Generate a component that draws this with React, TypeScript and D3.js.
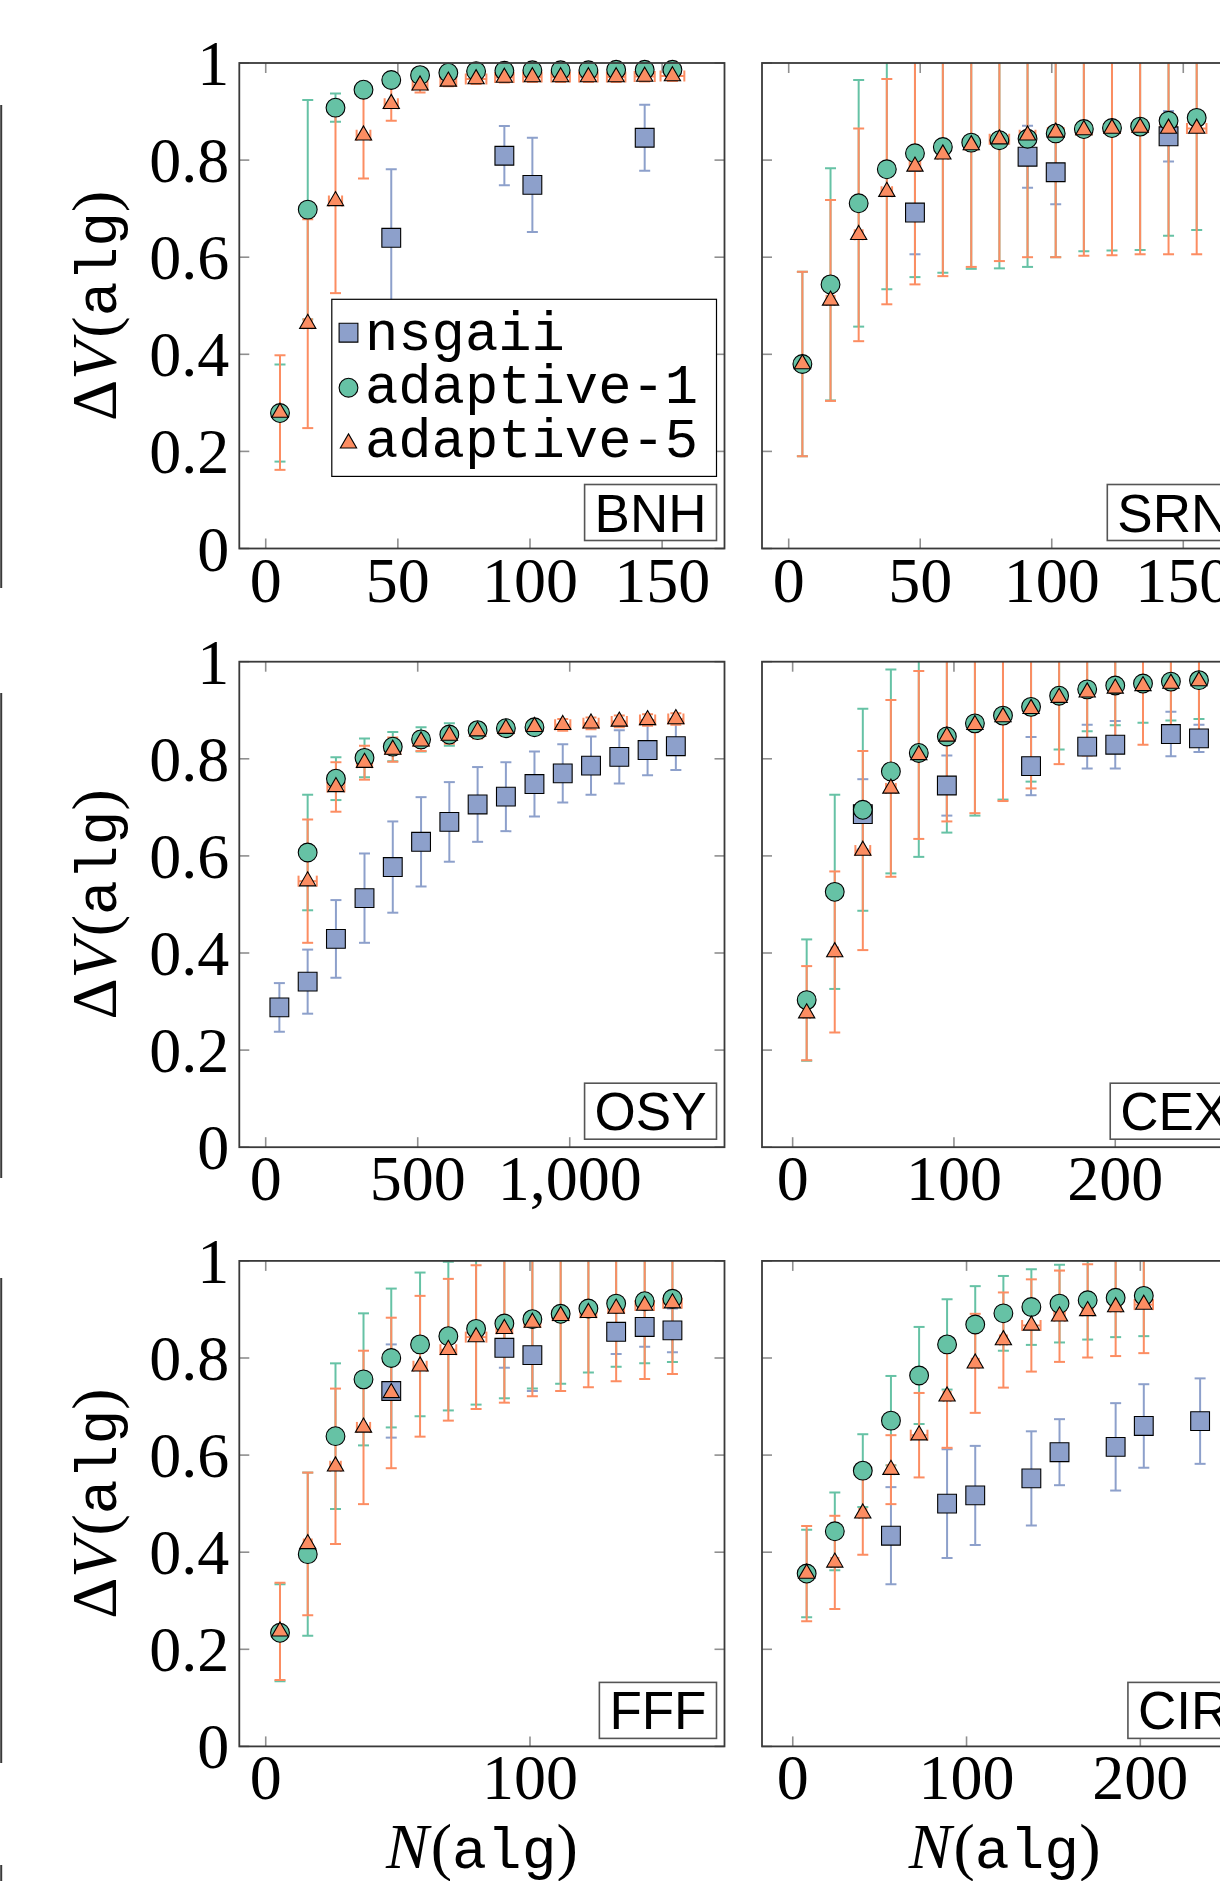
import React from 'react';
import * as d3 from 'd3';

// ---------- colours ----------
const C_NSGA = '#8DA0CB';
const C_A1 = '#66C2A5';
const C_A5 = '#FC8D62';

const LEGEND_LABELS = ['nsgaii', 'adaptive-1', 'adaptive-5'];
const Y_TICKS = [0, 0.2, 0.4, 0.6, 0.8, 1];
const Y_TICK_LABELS = ['0', '0.2', '0.4', '0.6', '0.8', '1'];

// ---------- BNH ----------
const BNH_N = [5.4, 15.9, 26.4, 37.0, 47.5, 58.4, 69.1, 79.6, 90.3, 100.9, 111.6, 122.1, 132.6, 143.4, 153.9];
const BNH_A1 = [0.279, 0.698, 0.908, 0.945, 0.965, 0.975, 0.980, 0.983, 0.984, 0.985, 0.985, 0.985, 0.986, 0.986, 0.986];
const BNH_A1_ERR = [0.10, 0.226, 0.029, 0.012, 0.008, 0.006, 0.005, 0.004, 0.004, 0.004, 0.004, 0.004, 0.004, 0.004, 0.004];
const BNH_A5 = [0.280, 0.463, 0.716, 0.851, 0.916, 0.954, 0.962, 0.967, 0.970, 0.971, 0.971, 0.971, 0.971, 0.972, 0.973];
const BNH_A5_ERR = [0.118, 0.215, 0.19, 0.089, 0.035, 0.015, 0.01, 0.01, 0.01, 0.01, 0.01, 0.01, 0.01, 0.01, 0.01];
const BNH_A5_XERR = [1.0, 1.5, 2.5, 2.6, 2.5, 2.8, 3.0, 3.9, 3.5, 3.5, 3.5, 3.5, 3.5, 3.8, 4.5];
const BNH_NSGA_N = [47.5, 90.3, 100.9, 143.4];
const BNH_NSGA = [0.640, 0.809, 0.749, 0.846];
const BNH_NSGA_ERR = [0.141, 0.061, 0.097, 0.068];

// ---------- SRN ----------
const SRN_N = [5.2, 15.9, 26.6, 37.3, 48.0, 58.6, 69.4, 80.1, 90.8, 101.5, 112.2, 122.9, 133.6, 144.4, 155.1];
const SRN_A1 = [0.380, 0.544, 0.711, 0.781, 0.814, 0.827, 0.836, 0.841, 0.844, 0.855, 0.864, 0.866, 0.869, 0.881, 0.887];
const SRN_A1_ERR = [0.19, 0.239, 0.254, 0.247, 0.255, 0.259, 0.26, 0.264, 0.264, 0.255, 0.252, 0.252, 0.254, 0.237, 0.231];
const SRN_A5 = [0.380, 0.511, 0.646, 0.735, 0.787, 0.812, 0.831, 0.843, 0.851, 0.857, 0.862, 0.865, 0.867, 0.865, 0.865];
const SRN_A5_ERR = [0.19, 0.207, 0.219, 0.232, 0.243, 0.251, 0.251, 0.251, 0.251, 0.257, 0.259, 0.261, 0.261, 0.259, 0.259];
const SRN_A5_XERR = [1, 1.5, 1.5, 2, 2, 2, 2.5, 3.7, 3, 3, 3, 3, 3, 3, 3.7];
const SRN_NSGA_N = [48.0, 90.8, 101.5, 144.4];
const SRN_NSGA = [0.692, 0.807, 0.775, 0.849];
const SRN_NSGA_ERR = [0.086, 0.064, 0.066, 0.052];

// ---------- OSY ----------
const OSY_N = [45, 138, 231, 325, 418, 511, 604, 697, 790, 884, 977, 1070, 1163, 1256, 1349];
const OSY_NSGA = [0.288, 0.341, 0.429, 0.513, 0.577, 0.629, 0.670, 0.706, 0.722, 0.748, 0.770, 0.786, 0.804, 0.818, 0.826];
const OSY_NSGA_ERR = [0.05, 0.066, 0.080, 0.092, 0.094, 0.092, 0.082, 0.077, 0.071, 0.067, 0.060, 0.060, 0.055, 0.052, 0.049];
const OSY_A1_N = [138, 231, 325, 418, 511, 604, 697, 790, 884];
const OSY_A1 = [0.607, 0.759, 0.802, 0.825, 0.840, 0.850, 0.859, 0.863, 0.865];
const OSY_A1_ERR = [0.119, 0.044, 0.040, 0.030, 0.025, 0.023, 0.015, 0.012, 0.01];
const OSY_A5_N = [138, 231, 325, 418, 511, 604, 697, 790, 884, 977, 1070, 1163, 1256, 1349];
const OSY_A5 = [0.548, 0.742, 0.792, 0.819, 0.836, 0.848, 0.857, 0.862, 0.866, 0.870, 0.873, 0.877, 0.880, 0.882];
const OSY_A5_ERR = [0.127, 0.051, 0.035, 0.025, 0.02, 0.017, 0.015, 0.014, 0.013, 0.012, 0.012, 0.012, 0.012, 0.012];
const OSY_A5_XERR = [30, 28, 25, 25, 25, 25, 25, 25, 25, 25, 25, 25, 25, 25];

// ---------- CEX ----------
const CEX_N = [8.7, 26.1, 43.5, 60.9, 78.2, 95.6, 113.0, 130.4, 147.8, 165.2, 182.6, 200.0, 217.2, 234.5, 251.9];
const CEX_A1 = [0.303, 0.526, 0.695, 0.774, 0.812, 0.846, 0.873, 0.889, 0.907, 0.930, 0.943, 0.951, 0.955, 0.959, 0.962];
const CEX_A1_ERR = [0.125, 0.20, 0.208, 0.21, 0.214, 0.198, 0.19, 0.173, 0.154, 0.111, 0.086, 0.082, 0.081, 0.08, 0.08];
const CEX_A5 = [0.276, 0.402, 0.611, 0.739, 0.808, 0.846, 0.870, 0.886, 0.903, 0.926, 0.937, 0.945, 0.950, 0.955, 0.960];
const CEX_A5_ERR = [0.097, 0.166, 0.205, 0.182, 0.173, 0.175, 0.182, 0.173, 0.164, 0.137, 0.13, 0.13, 0.121, 0.12, 0.12];
const CEX_A5_XERR = [2, 2, 4.6, 3, 3, 3, 3, 3, 3, 3, 3, 3, 3, 3, 3];
const CEX_NSGA_N = [43.5, 95.6, 147.8, 182.6, 200.0, 234.5, 251.9];
const CEX_NSGA = [0.686, 0.745, 0.785, 0.825, 0.829, 0.851, 0.842];
const CEX_NSGA_ERR = [0.072, 0.062, 0.060, 0.045, 0.049, 0.046, 0.028];

// ---------- FFF ----------
const FFF_N = [5.4, 15.9, 26.4, 37.0, 47.5, 58.4, 69.1, 79.6, 90.3, 100.9, 111.6, 122.1, 132.6, 143.4, 153.9];
const FFF_A1 = [0.234, 0.396, 0.639, 0.756, 0.800, 0.828, 0.845, 0.860, 0.871, 0.880, 0.891, 0.902, 0.912, 0.917, 0.922];
const FFF_A1_ERR = [0.10, 0.168, 0.15, 0.136, 0.143, 0.148, 0.153, 0.156, 0.154, 0.143, 0.144, 0.132, 0.13, 0.128, 0.13];
const FFF_A5 = [0.237, 0.417, 0.577, 0.657, 0.728, 0.783, 0.817, 0.843, 0.860, 0.873, 0.887, 0.893, 0.902, 0.908, 0.913];
const FFF_A5_ERR = [0.10, 0.147, 0.16, 0.158, 0.155, 0.145, 0.146, 0.148, 0.152, 0.152, 0.155, 0.153, 0.15, 0.151, 0.146];
const FFF_A5_XERR = [1, 1.5, 2, 2.5, 2.5, 2.5, 3, 3.9, 3, 3, 3, 3, 3, 3.5, 3.5];
const FFF_NSGA_N = [47.5, 90.3, 100.9, 132.6, 143.4, 153.9];
const FFF_NSGA = [0.732, 0.821, 0.806, 0.854, 0.864, 0.857];
const FFF_NSGA_ERR = [0.096, 0.041, 0.074, 0.046, 0.041, 0.045];

// ---------- CIR ----------
const CIR_N = [8.0, 24.2, 40.3, 56.5, 72.7, 88.8, 105.0, 121.2, 137.3, 153.5, 169.7, 185.8, 202.0];
const CIR_A1 = [0.356, 0.443, 0.568, 0.671, 0.764, 0.828, 0.869, 0.892, 0.905, 0.912, 0.919, 0.924, 0.928];
const CIR_A1_ERR = [0.09, 0.08, 0.075, 0.092, 0.10, 0.093, 0.079, 0.077, 0.078, 0.08, 0.081, 0.081, 0.083];
const CIR_A5 = [0.356, 0.379, 0.480, 0.570, 0.641, 0.721, 0.789, 0.837, 0.867, 0.886, 0.897, 0.905, 0.910];
const CIR_A5_ERR = [0.098, 0.096, 0.085, 0.071, 0.087, 0.106, 0.102, 0.098, 0.095, 0.094, 0.096, 0.101, 0.10];
const CIR_A5_XERR = [2, 2, 2, 2, 4.8, 2, 2, 2, 5.3, 3, 3, 3, 5.3];
const CIR_NSGA_N = [56.5, 88.8, 105.0, 137.3, 153.5, 185.8, 202.0, 234.4];
const CIR_NSGA = [0.434, 0.500, 0.517, 0.552, 0.606, 0.617, 0.660, 0.670];
const CIR_NSGA_ERR = [0.10, 0.112, 0.102, 0.097, 0.068, 0.09, 0.086, 0.088];

// ---------- panels ----------
type Series = { color: string; shape: 'square' | 'circle' | 'triangle'; x: number[]; y: number[]; e: number[]; xe?: number[] };
type PanelDef = { name: string; col: number; row: number; xDomain: [number, number]; xTicks: number[]; xTickLabels: string[]; series: Series[] };

const mk = (nx: number[], ny: number[], ne: number[], ax1: number[], a1: number[], a1e: number[], ax5: number[], a5: number[], a5e: number[], a5xe: number[]): Series[] => [
  { color: C_NSGA, shape: 'square', x: nx, y: ny, e: ne },
  { color: C_A1, shape: 'circle', x: ax1, y: a1, e: a1e },
  { color: C_A5, shape: 'triangle', x: ax5, y: a5, e: a5e, xe: a5xe },
];

const PANELS: PanelDef[] = [
  { name: 'BNH', col: 0, row: 0, xDomain: [-10, 173.6], xTicks: [0, 50, 100, 150], xTickLabels: ['0', '50', '100', '150'],
    series: mk(BNH_NSGA_N, BNH_NSGA, BNH_NSGA_ERR, BNH_N, BNH_A1, BNH_A1_ERR, BNH_N, BNH_A5, BNH_A5_ERR, BNH_A5_XERR) },
  { name: 'SRN', col: 1, row: 0, xDomain: [-10.15, 174.3], xTicks: [0, 50, 100, 150], xTickLabels: ['0', '50', '100', '150'],
    series: mk(SRN_NSGA_N, SRN_NSGA, SRN_NSGA_ERR, SRN_N, SRN_A1, SRN_A1_ERR, SRN_N, SRN_A5, SRN_A5_ERR, SRN_A5_XERR) },
  { name: 'OSY', col: 0, row: 1, xDomain: [-86.8, 1509], xTicks: [0, 500, 1000], xTickLabels: ['0', '500', '1,000'],
    series: mk(OSY_N, OSY_NSGA, OSY_NSGA_ERR, OSY_A1_N, OSY_A1, OSY_A1_ERR, OSY_A5_N, OSY_A5, OSY_A5_ERR, OSY_A5_XERR) },
  { name: 'CEX', col: 1, row: 1, xDomain: [-19, 281.8], xTicks: [0, 100, 200], xTickLabels: ['0', '100', '200'],
    series: mk(CEX_NSGA_N, CEX_NSGA, CEX_NSGA_ERR, CEX_N, CEX_A1, CEX_A1_ERR, CEX_N, CEX_A5, CEX_A5_ERR, CEX_A5_XERR) },
  { name: 'FFF', col: 0, row: 2, xDomain: [-10, 173.6], xTicks: [0, 100], xTickLabels: ['0', '100'],
    series: mk(FFF_NSGA_N, FFF_NSGA, FFF_NSGA_ERR, FFF_N, FFF_A1, FFF_A1_ERR, FFF_N, FFF_A5, FFF_A5_ERR, FFF_A5_XERR) },
  { name: 'CIR', col: 1, row: 2, xDomain: [-17.7, 261.5], xTicks: [0, 100, 200], xTickLabels: ['0', '100', '200'],
    series: mk(CIR_NSGA_N, CIR_NSGA, CIR_NSGA_ERR, CIR_N, CIR_A1, CIR_A1_ERR, CIR_N, CIR_A5, CIR_A5_ERR, CIR_A5_XERR) },
];

// ---------- layout ----------
const W = 1220, H = 1881;
const COL_LEFTS = [239.3, 762];
const ROW_TOPS = [63, 661.7, 1260.9];
const PW = 485.2, PH = 485.5;
const SERIF = '"Liberation Serif", "Times New Roman", serif';
const MONO = '"Liberation Mono", "Courier New", monospace';
const SANS = '"Liberation Sans", Arial, sans-serif';
const FS = 64;
const MR = 9.4; // marker radius

const symPath = (shape: string) => {
  if (shape === 'square') return d3.symbol(d3.symbolSquare, (2 * MR) * (2 * MR))();
  if (shape === 'circle') return d3.symbol(d3.symbolCircle, Math.PI * MR * MR)();
  const yy = MR / 2;
  return d3.symbol(d3.symbolTriangle, yy * yy * Math.sqrt(3) * 3)();
};

let _ctx: CanvasRenderingContext2D | null = null;
const measure = (t: string, font: string) => {
  if (!_ctx) _ctx = document.createElement('canvas').getContext('2d');
  if (!_ctx) return t.length * 30;
  _ctx.font = font;
  return _ctx.measureText(t).width;
};

function Panel({ p, idx }: { p: PanelDef; idx: number }) {
  const x0 = COL_LEFTS[p.col];
  const y0 = ROW_TOPS[p.row];
  const x = d3.scaleLinear().domain(p.xDomain).range([x0, x0 + PW]);
  const y = d3.scaleLinear().domain([0, 1]).range([y0 + PH, y0]);
  const clipId = `clip-${idx}`;
  const cap = 5.5;
  const tickLen = 10;

  const nameFont = `53px ${SANS}`;
  const tw = measure(p.name, nameFont);
  const bw = tw + 20, bh = 56;
  const bx = x0 + PW - 8 - bw, by = y0 + PH - 8 - bh;

  return (
    <g>
      <defs>
        <clipPath id={clipId}>
          <rect x={x0} y={y0} width={PW} height={PH} />
        </clipPath>
      </defs>
      {/* ticks */}
      <g stroke="#8f8f8f" strokeWidth={1.6}>
        {p.xTicks.map((t) => (
          <g key={'xt' + t}>
            <line x1={x(t)} x2={x(t)} y1={y0 + PH} y2={y0 + PH - tickLen} />
            <line x1={x(t)} x2={x(t)} y1={y0} y2={y0 + tickLen} />
          </g>
        ))}
        {Y_TICKS.map((t) => (
          <g key={'yt' + t}>
            <line x1={x0} x2={x0 + tickLen} y1={y(t)} y2={y(t)} />
            <line x1={x0 + PW} x2={x0 + PW - tickLen} y1={y(t)} y2={y(t)} />
          </g>
        ))}
      </g>
      {/* error bars */}
      <g clipPath={`url(#${clipId})`} fill="none" strokeWidth={2}>
        {p.series.map((s, si) => (
          <g key={'eb' + si} stroke={s.color}>
            {s.x.map((n, i) => {
              const cx = x(n);
              const lo = y(s.y[i] - s.e[i]);
              const hi = y(s.y[i] + s.e[i]);
              const cy = y(s.y[i]);
              const xe = s.xe ? s.xe[i] : 0;
              return (
                <g key={i}>
                  <line x1={cx} x2={cx} y1={lo} y2={hi} />
                  <line x1={cx - cap} x2={cx + cap} y1={lo} y2={lo} />
                  <line x1={cx - cap} x2={cx + cap} y1={hi} y2={hi} />
                  {xe > 0 && (
                    <g>
                      <line x1={x(n - xe)} x2={x(n + xe)} y1={cy} y2={cy} />
                      <line x1={x(n - xe)} x2={x(n - xe)} y1={cy - cap} y2={cy + cap} />
                      <line x1={x(n + xe)} x2={x(n + xe)} y1={cy - cap} y2={cy + cap} />
                    </g>
                  )}
                </g>
              );
            })}
          </g>
        ))}
      </g>
      {/* markers */}
      {p.series.map((s, si) => (
        <g key={'mk' + si} fill={s.color} stroke="#000" strokeWidth={1.1}>
          {s.x.map((n, i) => (
            <path key={i} d={symPath(s.shape) || ''} transform={`translate(${x(n)},${y(s.y[i])})`} />
          ))}
        </g>
      ))}
      {/* frame */}
      <rect x={x0} y={y0} width={PW} height={PH} fill="none" stroke="#3a3a3a" strokeWidth={1.8} />
      {/* x tick labels */}
      <g fontFamily={SERIF} fontSize={FS} textAnchor="middle" fill="#000">
        {p.xTicks.map((t, i) => (
          <text key={'xl' + t} x={x(t)} y={y0 + PH + 53}>{p.xTickLabels[i]}</text>
        ))}
      </g>
      {/* y tick labels */}
      {p.col === 0 && (
        <g fontFamily={SERIF} fontSize={FS} textAnchor="end" fill="#000">
          {Y_TICKS.map((t, i) => (
            <text key={'yl' + t} x={x0 - 10} y={y(t) + 22}>{Y_TICK_LABELS[i]}</text>
          ))}
        </g>
      )}
      {/* y axis label */}
      {p.col === 0 && (
        <text transform={`translate(116,${y0 + PH / 2}) rotate(-90)`} textAnchor="middle" fontFamily={SERIF} fontSize={FS} fill="#000">
          <tspan>Δ</tspan>
          <tspan fontStyle="italic">V</tspan>
          <tspan dx={3}>(</tspan>
          <tspan fontFamily={MONO} fontSize={58}>alg</tspan>
          <tspan>)</tspan>
        </text>
      )}
      {/* x axis label */}
      {p.row === 2 && (
        <text x={x0 + PW / 2} y={y0 + PH + 122} textAnchor="middle" fontFamily={SERIF} fontSize={FS} fill="#000">
          <tspan fontStyle="italic">N</tspan>
          <tspan dx={2}>(</tspan>
          <tspan fontFamily={MONO} fontSize={58}>alg</tspan>
          <tspan>)</tspan>
        </text>
      )}
      {/* name box */}
      <g>
        <rect x={bx} y={by} width={bw} height={bh} fill="#fff" stroke="#555" strokeWidth={1.6} />
        <text x={bx + bw / 2} y={by + bh - 9} textAnchor="middle" fontFamily={SANS} fontSize={53} fill="#000">{p.name}</text>
      </g>
    </g>
  );
}

function Legend() {
  const lx = 331.8, ly = 299.3, lw = 384.7, lh = 177.1;
  const shapes = ['square', 'circle', 'triangle'];
  const colors = [C_NSGA, C_A1, C_A5];
  const markerY = [332.7, 387.7, 443.3];
  const baseY = [350, 403.3, 456.7];
  return (
    <g>
      <rect x={lx} y={ly} width={lw} height={lh} fill="#fff" stroke="#000" strokeWidth={1.2} />
      {LEGEND_LABELS.map((l, i) => (
        <g key={l}>
          <path d={symPath(shapes[i]) || ''} transform={`translate(348.5,${markerY[i]})`} fill={colors[i]} stroke="#000" strokeWidth={1.1} />
          <text x={365} y={baseY[i]} fontFamily={MONO} fontSize={55.5} fill="#000">{l}</text>
        </g>
      ))}
    </g>
  );
}

export default function App() {
  const sideLines: [number, number][] = [[105, 588], [693, 1178], [1278, 1763], [1865, 1881]];
  return (
    <div style={{ position: 'absolute', left: 0, top: 0, width: W, height: H, overflow: 'hidden', background: '#fff' }}>
      <svg width={W} height={H} style={{ display: 'block' }}>
        <rect x={0} y={0} width={W} height={H} fill="#fff" />
        {sideLines.map(([a, b], i) => (
          <line key={i} x1={1.2} x2={1.2} y1={a} y2={b} stroke="#3a3a3a" strokeWidth={2} />
        ))}
        {PANELS.map((p, i) => (
          <Panel key={p.name} p={p} idx={i} />
        ))}
        <Legend />
      </svg>
    </div>
  );
}
